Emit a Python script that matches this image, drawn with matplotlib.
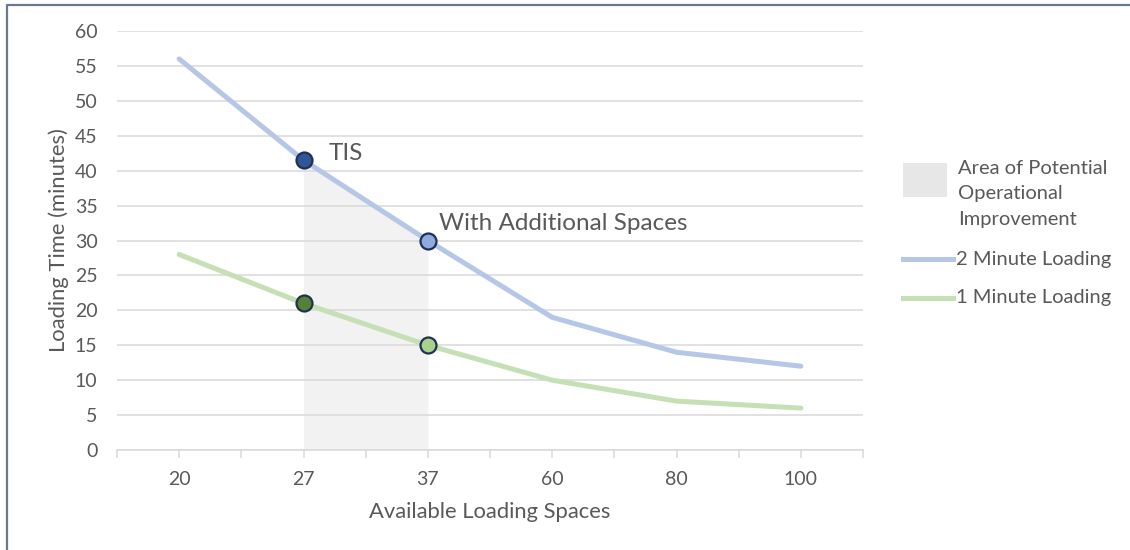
import matplotlib
matplotlib.use("Agg")
import matplotlib.pyplot as plt
from matplotlib.lines import Line2D
from matplotlib.patches import Rectangle

# Data
spaces = ["20", "27", "37", "60", "80", "100"]
two_minute = [56, 41.5, 30, 19, 14, 12]
one_minute = [28, 21, 15, 10, 7, 6]
highlight_idx = [1, 2]          # TIS and with additional spaces
y_ticks = [0, 5, 10, 15, 20, 25, 30, 35, 40, 45, 50, 55, 60]

# Styling
FONT = ["Lato", "DejaVu Sans"]
TEXT = "#595959"
GRID = "#d9d9d9"
BLUE_LINE = "#b4c7e7"
GREEN_LINE = "#c5e0b4"
SHADE = "#f2f2f2"
EDGE = "#1f3055"
BLUE_MARK = ["#2f5597", "#8faadc"]
GREEN_MARK = ["#548235", "#a9d18e"]

plt.rcParams["font.family"] = FONT

W, H = 1130, 550
fig = plt.figure(figsize=(W / 100, H / 100), dpi=100)

# Frame around the chart
fig.add_artist(Line2D([7 / W, 7 / W, 1.0], [0.0, 1 - 5 / H, 1 - 5 / H],
                      transform=fig.transFigure, color="#6b7893", lw=1.6))

ax = fig.add_axes([117 / W, 100 / H, 746 / W, 419 / H])
x = list(range(len(spaces)))

# Shaded region between the two highlighted configurations
i0, i1 = highlight_idx
ax.fill_between(x[i0:i1 + 1], two_minute[i0:i1 + 1], 0, color=SHADE, lw=0, zorder=1)

ax.plot(x, two_minute, color=BLUE_LINE, lw=3.6, solid_capstyle="round",
        solid_joinstyle="round", zorder=3)
ax.plot(x, one_minute, color=GREEN_LINE, lw=3.6, solid_capstyle="round",
        solid_joinstyle="round", zorder=3)

for k, i in enumerate(highlight_idx):
    ax.plot(x[i], two_minute[i], "o", ms=11.5, mfc=BLUE_MARK[k], mec=EDGE, mew=1.6, zorder=4)
    ax.plot(x[i], one_minute[i], "o", ms=11.5, mfc=GREEN_MARK[k], mec=EDGE, mew=1.6, zorder=4)

ax.annotate("TIS", (x[i0], two_minute[i0]), xytext=(18, 5), textcoords="offset points",
            ha="left", va="center", fontsize=17.5, color=TEXT)
ax.annotate("With Additional Spaces", (x[i1], two_minute[i1]), xytext=(8, 12),
            textcoords="offset points", ha="left", va="center", fontsize=17.5, color=TEXT)

ax.set_xlim(-0.5, len(spaces) - 0.5)
ax.set_ylim(0, 60)
ax.set_yticks(y_ticks)
ax.set_xticks(x)
ax.set_xticklabels(spaces)
ax.set_xticks([v - 0.5 for v in range(len(spaces) + 1)], minor=True)
ax.set_axisbelow("line")
ax.grid(axis="y", color=GRID, lw=1.1)
for side in ["top", "right", "left"]:
    ax.spines[side].set_visible(False)
ax.spines["bottom"].set_color(GRID)
ax.spines["bottom"].set_linewidth(1.1)
ax.tick_params(axis="y", length=0, pad=14, labelsize=14, labelcolor=TEXT)
ax.tick_params(axis="x", which="both", length=6, width=1.1, color=GRID,
               pad=9, labelsize=14, labelcolor=TEXT)

ax.set_xlabel("Available Loading Spaces", fontsize=15.8, color=TEXT, labelpad=10)
ax.set_ylabel("Loading Time (minutes)", fontsize=15.8, color=TEXT, labelpad=4)

# Legend
def fx(px):
    return px / W

def fy(py):
    return 1 - py / H

LEG_FS = 14.5
fig.add_artist(Rectangle((fx(903), fy(197)), 44 / W, 34 / H, transform=fig.transFigure,
                         facecolor="#e7e7e7", edgecolor="none"))
for py, line in zip([168, 194, 220], ["Area of Potential", "Operational", "Improvement"]):
    fig.text(fx(958), fy(py), line, ha="left", va="center", fontsize=LEG_FS, color=TEXT)
for py, col, lab in [(259, BLUE_LINE, "2 Minute Loading"), (298, GREEN_LINE, "1 Minute Loading")]:
    fig.add_artist(Line2D([fx(903), fx(953)], [fy(py), fy(py)], transform=fig.transFigure,
                          color=col, lw=3.6))
    fig.text(fx(956), fy(py), lab, ha="left", va="center", fontsize=LEG_FS, color=TEXT)

fig.savefig("out.png", dpi=100, facecolor="white")
